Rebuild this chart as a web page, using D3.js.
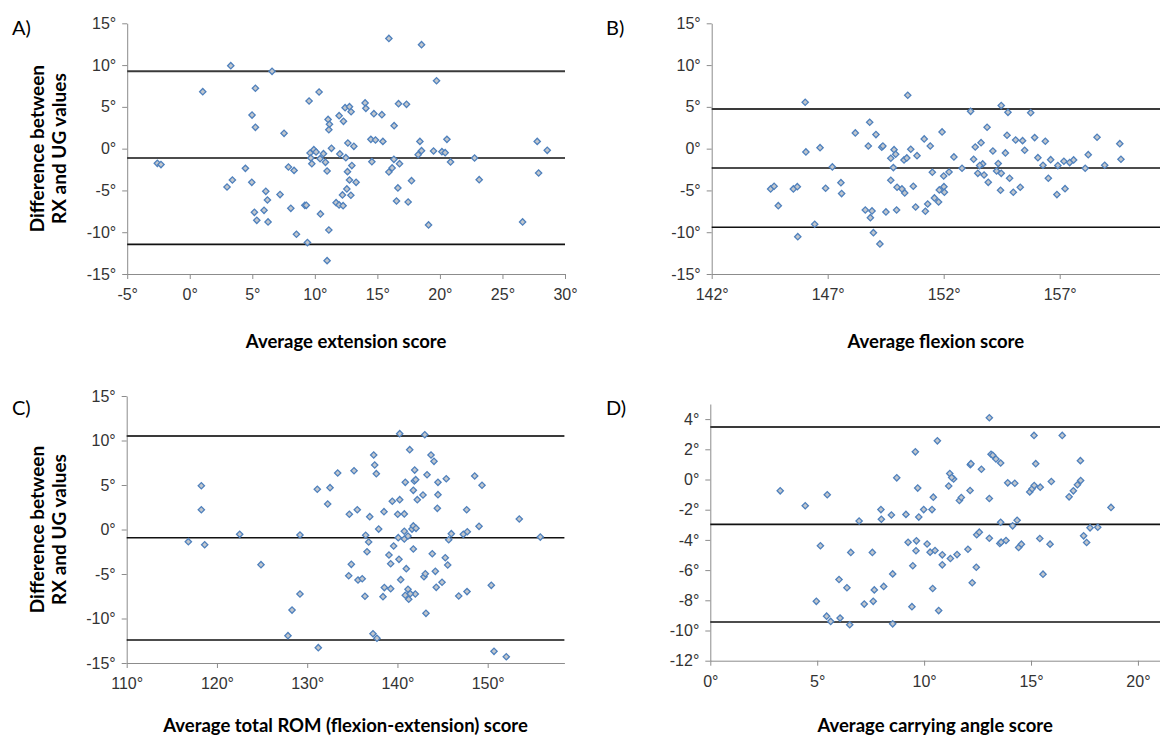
<!DOCTYPE html>
<html>
<head>
<meta charset="utf-8">
<script src="https://cdn.jsdelivr.net/npm/d3@7"></script>
<style>
  body { margin: 0; background: #fff; }
  svg { display: block; font-family: Lato, "Open Sans", sans-serif; }
  .tick text { font-size: 16px; fill: #333; }
  .axis path, .axis line { stroke: #8c8c8c; }
</style>
</head>
<body>
<svg id="chart" width="1160" height="738"></svg>
<script>
// Bland-Altman style plots: RX vs UG measurements

// A) extension
const extensionAvg = [3.28, 6.58, 1.04, 5.25, 9.54, 10.34, 4.98, 5.25, 7.54, 11.06, 11.17, 11.12, 12.42, 12.77, 12.9, 11.94, 12.29,
  -2.59, -2.3, 4.45, 3.41, 2.98, 4.96, 6.08, 6.21, 7.22, 5.17, 5.94, 5.36, 6.26, 7.89, 8.34, 8.08, 9.2, 9.32, 10.45, 8.53, 9.41,
  11.12, 10.98, 9.62, 9.92, 9.68, 9.76, 10.1, 10.42, 10.69, 10.85, 11.33, 10.98, 12.0, 12.48, 12.64, 13.12, 12.96, 12.61, 12.77,
  13.3, 12.56, 12.21, 12.88, 11.7, 11.94, 12.26,
  15.92, 18.53, 19.73, 14.02, 14.08, 14.72, 15.36, 16.69, 17.33, 16.34, 14.48, 14.85, 15.44, 18.4, 20.56, 18.53, 18.26, 19.49,
  20.16, 20.42, 20.85, 14.56, 16.32, 16.77, 16.18, 15.92, 17.73, 16.64, 16.53, 17.46, 19.09, 22.77, 23.14, 27.78, 28.58, 27.89, 26.61];
const extensionDiff = [9.93, 9.25, 6.82, 7.23, 5.7, 6.78, 4.02, 2.55, 1.83, 3.5, 2.92, 2.27, 4.9, 5.02, 4.42, 3.95, 3.27,
  -1.76, -1.91, -2.36, -3.75, -4.59, -4.03, -5.11, -6.14, -5.5, -7.62, -7.38, -8.58, -8.77, -2.2, -2.6, -7.14, -6.78, -6.78, -7.81, -10.24, -11.24,
  -9.73, -13.4, -0.52, -0.12, -1.12, -1.8, -0.4, -1.2, -0.6, -1.64, 0.04, -2.67, -0.63, -1.08, 0.68, 0.28, -2.03, -2.75, -3.75,
  -4.03, -4.82, -5.54, -5.58, -6.46, -6.73, -6.82,
  13.19, 12.44, 8.13, 5.47, 4.82, 4.19, 4.07, 5.38, 5.3, 2.75, 1.11, 1.04, 0.87, 0.87, 1.11, -0.24, -0.72, -0.28,
  -0.36, -0.48, -1.59, -1.56, -1.28, -1.8, -2.31, -2.79, -3.83, -4.7, -6.26, -6.38, -9.13, -1.12, -3.71, 0.87, -0.2, -2.91, -8.77];
const extensionLimits = [9.25, -1.11, -11.45];

// B) flexion
const flexionAvg = [146.03, 150.45, 148.81, 148.19, 149.08, 148.75, 149.33, 149.38, 149.86, 149.72, 149.93, 150.29, 150.41, 150.58,
  150.85, 151.16, 151.42, 146.06, 146.67, 147.2, 149.83, 151.51, 144.54, 144.69, 145.52, 145.69, 144.87, 146.91, 147.57, 147.6,
  149.72, 149.99, 150.2, 150.32, 150.69, 151.6, 150.79, 151.31, 151.21, 148.62, 148.91, 148.84, 149.51, 149.97, 146.44, 145.71,
  148.97, 149.25,
  154.48, 153.16, 154.77, 155.75, 153.87, 151.93, 154.73, 155.1, 155.4, 155.92, 156.38, 158.61, 159.59, 153.36, 153.61, 154.12,
  154.66, 155.49, 152.44, 153.29, 153.68, 153.55, 154.35, 156.06, 156.28, 156.61, 156.92, 157.18, 157.43, 157.6, 158.23, 158.1,
  158.94, 159.64, 152.79, 152.23, 152.0, 153.47, 153.74, 154.28, 154.48, 154.84, 153.92, 156.51, 154.45, 155.0, 155.3, 156.88,
  157.23, 152.01, 151.81, 152.03, 151.78];
const flexionDiff = [5.55, 6.39, 3.16, 1.88, 1.68, 0.32, 0.17, 0.32, -0.12, -1.15, -0.67, -1.35, -1.11, -0.07,
  -0.84, 1.16, 0.32, -0.39, 0.12, -2.19, -2.27, -2.82, -4.82, -4.5, -4.82, -4.55, -6.82, -4.74, -4.07, -5.38,
  -3.78, -4.62, -4.82, -5.3, -4.5, -5.9, -6.98, -6.62, -7.49, -7.34, -7.45, -8.26, -7.57, -7.34, -9.05, -10.53,
  -10.05, -11.4,
  5.15, 4.47, 4.35, 4.31, 2.56, 2.0, 1.6, 1.04, 0.96, 1.32, 0.89, 1.36, 0.6, 0.2, 0.72, -0.28,
  -0.51, -0.19, -0.99, -1.27, -1.83, -2.03, -1.79, -1.08, -1.99, -1.32, -2.03, -1.51, -1.67, -1.35, -0.72, -2.35,
  -1.99, -1.27, -2.35, -2.79, -3.27, -2.95, -3.15, -2.67, -2.95, -3.54, -4.03, -3.54, -4.98, -5.22, -4.62, -5.5,
  -4.79, -4.55, -4.94, -5.22, -6.38];
const flexionLimits = [4.74, -2.31, -9.41];

// C) total ROM
const romAvg = [118.27, 118.27, 116.83, 118.64, 122.52, 124.88, 129.2, 129.2, 128.32, 127.87, 131.23, 131.12, 132.53, 133.38,
  135.19, 132.27, 134.67, 135.55, 134.89, 134.6, 135.63,
  140.25, 143.03, 141.36, 137.37, 143.72, 144.05, 137.48, 137.66, 141.91, 143.28, 140.87, 141.87, 142.02, 141.76, 144.49, 145.41,
  144.49, 142.83, 142.2, 139.43, 140.25, 144.42, 148.56, 149.37, 147.67, 136.93, 138.51, 140.03, 140.76, 137.92, 136.48, 136.81,
  136.63, 140.76, 140.09, 140.76, 141.17, 141.61, 141.76, 142.06, 139.58, 141.76, 139.06, 140.17, 139.25, 143.86, 145.3, 145.57,
  145.68, 145.97, 147.3, 147.74, 149.04, 153.5, 155.83, 136.1, 136.4, 138.4, 138.55, 139.25, 140.36, 140.98, 142.94, 143.09,
  144.2, 144.94, 144.3, 141.17, 140.87, 141.25, 141.98, 141.42, 143.16, 146.79, 147.71, 150.4, 137.29, 137.73, 150.7, 152.06];
const romDiff = [4.92, 2.22, -1.37, -1.71, -0.54, -3.95, -0.62, -7.25, -9.05, -11.93, -13.28, 4.52, 4.7, 6.35,
  6.6, 2.87, 1.71, 2.22, -3.91, -5.2, -5.67,
  10.77, 10.65, 8.97, 8.37, 8.37, 7.66, 7.25, 6.27, 6.68, 6.15, 5.3, 5.45, 5.6, 4.4, 5.3, 5.7,
  3.91, 3.88, 3.35, 3.17, 3.35, 2.38, 6.01, 4.97, 2.22, 1.44, 2.0, 1.71, 1.75, 0.05, -0.65, -1.4,
  -2.5, -0.2, -0.92, -1.07, -0.73, 0.05, 0.4, 0.13, -1.85, -2.19, -2.87, -3.35, -3.85, -2.72, -3.17, -3.99,
  -1.15, -0.47, -0.54, -0.25, 0.36, 1.18, -0.85, -5.53, -7.5, -7.55, -6.53, -6.65, -5.64, -4.4, -5.3, -4.97,
  -4.7, -5.93, -6.5, -6.72, -7.39, -7.84, -7.25, -7.21, -9.42, -7.47, -6.98, -6.27, -11.71, -12.22, -13.69, -14.3];
const romLimits = [10.51, -0.92, -12.42];

// D) carrying angle
const carryAvg = [3.27, 4.44, 5.47, 9.59, 8.72, 9.7, 6.96, 7.98, 8.0, 8.47, 9.15, 9.75, 9.98, 5.15, 6.57, 7.58, 9.25, 9.64,
  9.62, 9.47, 10.14, 6.02, 6.39, 8.53, 8.11, 7.67, 4.96, 7.2, 7.62, 9.43, 5.44, 5.63, 6.07, 6.52, 8.53,
  13.05, 15.14, 16.46, 10.62, 13.13, 13.21, 13.36, 13.58, 12.16, 12.19, 12.68, 15.22, 17.31, 11.2, 11.38, 11.29, 11.15, 10.43,
  10.37, 11.65, 11.74, 12.15, 13.05, 13.91, 14.24, 14.94, 15.05, 15.15, 15.43, 15.95, 16.78, 16.98, 17.17, 17.32, 18.74, 13.58,
  14.14, 14.35, 12.46, 12.58, 13.05, 13.54, 13.6, 13.83, 14.42, 14.55, 15.41, 15.89, 15.56, 17.46, 17.6, 17.76, 18.12, 10.28,
  10.51, 10.85, 10.85, 11.23, 11.54, 12.05, 12.44, 12.25, 10.4, 10.68];
const carryDiff = [-0.75, -1.74, -1.01, 1.83, 0.11, -0.57, -2.75, -1.99, -2.63, -2.35, -2.31, -2.49, -1.99, -4.39, -4.83, -4.83, -4.16, -4.06,
  -4.72, -5.71, -4.27, -6.62, -7.17, -6.25, -7.08, -7.31, -8.07, -8.25, -8.07, -8.42, -9.05, -9.4, -9.18, -9.62, -9.56,
  4.09, 2.92, 2.92, 2.56, 1.67, 1.6, 1.36, 1.09, 0.98, 1.05, 0.68, 1.05, 1.25, 0.39, 0.04, 0.13, -0.43, -1.17,
  -1.99, -1.39, -1.19, -0.73, -1.26, -0.22, -0.25, -0.82, -0.62, -0.4, -0.51, -0.13, -1.15, -0.75, -0.35, -0.07, -1.85, -2.83,
  -3.07, -2.7, -3.66, -3.49, -3.89, -4.24, -4.15, -4.04, -4.5, -4.28, -3.91, -4.28, -6.27, -3.73, -4.17, -3.2, -3.16, -4.81,
  -4.7, -4.99, -5.65, -5.23, -4.97, -4.62, -5.81, -6.84, -7.22, -8.68];
const carryLimits = [3.47, -2.97, -9.44];

// tick values
const diffTicks = [-15, -10, -5, 0, 5, 10, 15];
const carryDiffTicks = [-12, -10, -8, -6, -4, -2, 0, 2, 4];
const extensionTicks = [-5, 0, 5, 10, 15, 20, 25, 30];
const flexionTicks = [142, 147, 152, 157];
const romTicks = [110, 120, 130, 140, 150];
const carryTicks = [0, 5, 10, 15, 20];

const svg = d3.select('#chart');
const diamond = d3.symbol().type(d3.symbolSquare).size(20);

function drawPanel(p) {
    const x = d3.scaleLinear().domain(p.xDomain).range(p.xRange);
    const y = d3.scaleLinear().domain(p.yDomain).range(p.yRange);
    const g = svg.append('g');

    g.append('g')
        .attr('class', 'axis')
        .attr('transform', `translate(0,${p.yRange[0]})`)
        .call(d3.axisBottom(x).tickValues(p.xTicks).tickSize(5).tickSizeOuter(0).tickPadding(10)
            .tickFormat(d => d + '°'));

    g.append('g')
        .attr('class', 'axis')
        .attr('transform', `translate(${p.xRange[0]},0)`)
        .call(d3.axisLeft(y).tickValues(p.yTicks).tickSize(5).tickSizeOuter(0).tickPadding(6)
            .tickFormat(d => d + '°'));

    g.selectAll('.axis .domain').attr('stroke', '#8c8c8c');

    // mean and limits of agreement
    g.selectAll('.limit')
        .data(p.limits)
        .enter().append('line')
        .attr('x1', p.xRange[0])
        .attr('x2', p.xRange[1])
        .attr('y1', d => y(d))
        .attr('y2', d => y(d))
        .attr('stroke', (d, i) => i === 0 ? '#3a3a3a' : '#111')
        .attr('stroke-width', (d, i) => i === 0 ? 2 : 1.6);

    g.selectAll('.pt')
        .data(p.xs.map((v, i) => [v, p.ys[i]]))
        .enter().append('path')
        .attr('d', diamond)
        .attr('transform', d => `translate(${x(d[0])},${y(d[1])}) rotate(45)`)
        .attr('fill', '#c3c7cc')
        .attr('stroke', '#4f81bd')
        .attr('stroke-width', 1.3);

    svg.append('text')
        .attr('x', p.label[0]).attr('y', p.label[1])
        .style('font-size', '20px')
        .text(p.label[2]);

    svg.append('text')
        .attr('x', (p.xRange[0] + Math.min(p.xRange[1], 1160)) / 2)
        .attr('y', p.titleY)
        .attr('text-anchor', 'middle')
        .style('font-size', '18.5px')
        .style('font-weight', 'bold')
        .text(p.title);

    if (p.yTitle) {
        const cy = (p.yRange[0] + p.yRange[1]) / 2;
        const t = svg.append('text')
            .attr('transform', `translate(44,${cy}) rotate(-90)`)
            .attr('text-anchor', 'middle')
            .style('font-size', '19px')
            .style('font-weight', 'bold');
        t.append('tspan').attr('x', 0).attr('dy', 0).text('Difference between');
        t.append('tspan').attr('x', 0).attr('dy', 22).text('RX and UG values');
    }
}

drawPanel({
    xs: extensionAvg, ys: extensionDiff, limits: extensionLimits,
    xDomain: [-5, 30], xRange: [127.2, 565], yDomain: [-15, 15], yRange: [274, 23.3],
    xTicks: extensionTicks, yTicks: diffTicks,
    label: [12, 35, 'A)'], title: 'Average extension score', titleY: 348, yTitle: true
});

drawPanel({
    xs: flexionAvg, ys: flexionDiff, limits: flexionLimits,
    xDomain: [142, 162], xRange: [711.7, 1175.7], yDomain: [-15, 15], yRange: [274, 23.3],
    xTicks: flexionTicks, yTicks: diffTicks,
    label: [606, 35, 'B)'], title: 'Average flexion score', titleY: 348
});

drawPanel({
    xs: romAvg, ys: romDiff, limits: romLimits,
    xDomain: [110, 158.5], xRange: [126.7, 564.4], yDomain: [-15, 15], yRange: [663, 396],
    xTicks: romTicks, yTicks: diffTicks,
    label: [12, 415, 'C)'], title: 'Average total ROM (flexion-extension) score', titleY: 732, yTitle: true
});

drawPanel({
    xs: carryAvg, ys: carryDiff, limits: carryLimits,
    xDomain: [0, 22], xRange: [710.3, 1180.7], yDomain: [-12, 5], yRange: [660.7, 404],
    xTicks: carryTicks, yTicks: carryDiffTicks,
    label: [606, 415, 'D)'], title: 'Average carrying angle score', titleY: 732
});
</script>
</body>
</html>
